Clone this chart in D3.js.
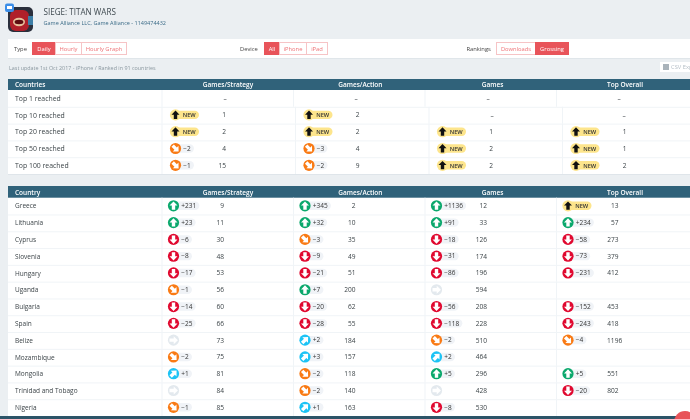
<!DOCTYPE html>
<html><head><meta charset="utf-8">
<script src="https://cdn.jsdelivr.net/npm/d3@7"></script>
<style>html,body{margin:0;padding:0;background:#ebeff2;overflow:hidden}svg{display:block;filter:blur(.3px)}text{font-family:"Open Sans",sans-serif}</style>
</head><body><svg id="c" width="690" height="419"></svg>
<script>
// ---------- data ----------
const columnNames = ["Games/Strategy","Games/Action","Games","Top Overall"];
const milestoneRows = ["Top 1 reached","Top 10 reached","Top 20 reached","Top 50 reached","Top 100 reached"];
const milestoneChange = [
  ["–","NEW","NEW",-2,-1],
  ["–","NEW","NEW",-3,-2],
  ["–","–","NEW","NEW","NEW"],
  ["–","–","NEW","NEW","NEW"]];
const milestoneRank = [
  [null,1,2,4,15],
  [null,2,2,4,9],
  [null,null,1,2,2],
  [null,null,1,1,2]];
const countries = ["Greece","Lithuania","Cyprus","Slovenia","Hungary","Uganda","Bulgaria","Spain","Belize","Mozambique","Mongolia","Trinidad and Tobago","Nigeria"];
const strategyChange = [231,23,-6,-8,-17,-1,-14,-25,0,-2,1,0,-1];
const strategyRank = [9,11,30,48,53,56,60,66,73,75,81,84,85];
const actionChange = [345,32,-3,-9,-21,7,-20,-28,2,3,-2,-2,1];
const actionRank = [2,10,35,49,51,200,62,55,184,157,118,140,163];
const gamesChange = [1136,91,-18,-31,-86,0,-56,-118,-2,2,5,0,-8];
const gamesRank = [12,33,126,174,196,594,208,228,510,464,296,428,530];
const overallChange = ["NEW",234,-58,-73,-231,null,-152,-243,-4,null,5,-20,null];
const overallRank = [13,57,273,379,412,null,453,418,1196,null,551,802,null];
const typeButtons = ["Daily","Hourly","Hourly Graph"];
const deviceButtons = ["All","iPhone","iPad"];
const rankingButtons = ["Downloads","Grossing"];

// ---------- helpers ----------
const HEAD="#30627a", RED="#e8545a", INK="#3c4448", LINE="#f0f4f7";
const svg=d3.select("#c");
const txt=(g,x,y,s,size,fill,anchor,weight)=>g.append("text").attr("x",x).attr("y",y).text(s)
  .attr("font-size",size).attr("fill",fill).attr("text-anchor",anchor||"start").attr("font-weight",weight||400);
const ARROW="M0,-4.4 L4,-0.2 L1.7,-0.2 L1.7,4 L-1.7,4 L-1.7,-0.2 L-4,-0.2 Z";
function style(v){
  if(v==="NEW") return {c:"#fde58c",a:0,f:"#111"};
  if(v===0) return {c:"#e3e9ee",a:90,f:"#fff"};
  if(v>=5) return {c:"#0aa86c",a:0,f:"#fff"};
  if(v>0) return {c:"#1cc3f5",a:45,f:"#fff"};
  if(v>=-4) return {c:"#f97a14",a:135,f:"#fff"};
  return {c:"#e0082f",a:180,f:"#fff"};
}
const label=v=>v==="NEW"?"NEW":v===0?"":(v>0?"+"+v:"−"+Math.abs(v));
function badge(g,x,y,v){
  const s=style(v), t=label(v), isNew=v==="NEW";
  if(t){
    const p=g.append("rect").attr("y",y-4.2).attr("height",8.4).attr("rx",4.2)
      .attr("fill",isNew?"#fde58c":"#f0f3f7");
    const tx=txt(g,x+(isNew?7.2:7.8),y+2.2,t,isNew?5.7:6.5,"#333","start",isNew?600:400);
    const w=tx.node().getComputedTextLength();
    p.attr("x",x).attr("width",w+(isNew?10.5:11)); tx.raise();
  }
  g.append("circle").attr("cx",x).attr("cy",y).attr("r",5.6).attr("fill",s.c);
  g.append("path").attr("d",ARROW).attr("fill",s.f).attr("transform",`translate(${x},${y}) rotate(${s.a})`);
}
function buttons(g,names,edges,active){
  const x=d3.scaleOrdinal().domain(names).range(edges.slice(0,-1));
  const wd=d=>edges[names.indexOf(d)+1]-x(d);
  const sel=g.selectAll("g.b").data(names).join("g");
  sel.append("rect").attr("x",d=>x(d)+.5).attr("y",42.5).attr("width",wd).attr("height",12)
    .attr("fill",d=>d===active?RED:"#fff").attr("stroke",d=>d===active?RED:"#f6c4c6");
  sel.append("text").attr("x",d=>x(d)+wd(d)/2+.5).attr("y",51).attr("text-anchor","middle").attr("font-size",5.8)
    .attr("fill",d=>d===active?"#fff":"#ee7478").text(d=>d);
}
function table(top,bottom,hTop,title,rows,changes,ranks,xScale,off,dashX){
  const g=svg.append("g");
  g.append("rect").attr("x",8).attr("y",hTop).attr("width",690).attr("height",bottom-hTop).attr("fill","#fff");
  g.append("rect").attr("x",8).attr("y",bottom).attr("width",690).attr("height",1).attr("fill","#dfe5ea");
  g.append("rect").attr("x",8).attr("y",hTop).attr("width",690).attr("height",top-hTop).attr("fill",HEAD);
  txt(g,15,top-3,title,6.5,"#fff","start",600);
  const y=d3.scaleBand().domain(rows).range([top,bottom]);
  const hx=d3.scalePoint().domain(columnNames).range(off.head);
  columnNames.forEach(c=>txt(g,hx(c),top-3,c,6.5,"#fff","middle",600));
  rows.forEach((r,i)=>{
    if(i) g.append("rect").attr("x",8).attr("y",y(r)).attr("width",690).attr("height",1).attr("fill",LINE);
    txt(g,15,y(r)+y.bandwidth()/2+2.4,r,off.rowSize,INK);
  });
  columnNames.forEach((c,ci)=>{
    rows.forEach((r,ri)=>{
      const cy=y(r)+y.bandwidth()/2, v=changes[ci][ri], rk=ranks[ci][ri];
      const dash=v==="–", scale=(dash&&ri===0&&off.first)?off.first:xScale;
      g.append("rect").attr("x",scale(c)).attr("y",y(r)).attr("width",1).attr("height",y.bandwidth()).attr("fill",LINE);
      if(dash){ txt(g,dashX[ri===0?0:1][ci],cy+2.3,"–",6.5,INK,"middle"); return; }
      if(v!==null) badge(g,xScale(c)+off.icon,cy-.3,v);
      if(rk!==null){
        const t=txt(g,xScale(c)+off.num,cy+2.2,rk,6.6,INK,"end");
        if(String(rk).length>3) t.attr("text-anchor","start").attr("x",xScale(c)+off.num-11.4);
      }
    });
  });
}

// ---------- page header ----------
const ic=svg.append("g");
ic.append("rect").attr("x",8).attr("y",7).attr("width",25).attr("height",25).attr("rx",5).attr("fill","#2a2f3c");
ic.append("rect").attr("x",10).attr("y",10).attr("width",19).attr("height",21).attr("rx",6).attr("fill","#b0202a");
ic.append("ellipse").attr("cx",19).attr("cy",22).attr("rx",6).attr("ry",4.2).attr("fill","#e6c29c");
ic.append("ellipse").attr("cx",19).attr("cy",22).attr("rx",4.4).attr("ry",2.2).attr("fill","#5c0c10");
ic.append("rect").attr("x",28).attr("y",16).attr("width",5).attr("height",9).attr("fill","#3d7ea6");
ic.append("rect").attr("x",5).attr("y",3.5).attr("width",9).attr("height",8.5).attr("rx",2).attr("fill","#3b8ee8");
ic.append("rect").attr("x",7).attr("y",6).attr("width",5).attr("height",3).attr("fill","#fff");
txt(svg,43.5,15,"SIEGE: TITAN WARS",8.1,"#3f4a50","start",500);
txt(svg,43.5,24.6,"Game Alliance LLC, Game Alliance - 1149474432",5.5,"#3c6c88");

// ---------- filter bar ----------
const bar=svg.append("g");
bar.append("rect").attr("x",8).attr("y",39).attr("width",690).attr("height",19).attr("fill","#fff");
bar.append("rect").attr("x",8).attr("y",58).attr("width",690).attr("height",1).attr("fill","#e0e6ea");
txt(bar,14,51,"Type",5.8,"#444"); txt(bar,240,51,"Device",5.8,"#444"); txt(bar,466.5,51,"Rankings",5.8,"#444");
buttons(bar.append("g"),typeButtons,[32,55,81,126],"Daily");
buttons(bar.append("g"),deviceButtons,[264,279,306,327],"All");
buttons(bar.append("g"),rankingButtons,[496,535,568],"Grossing");
txt(svg,9,69.5,"Last update 1st Oct 2017 - iPhone / Ranked in 91 countries",5.4,"#8a979f");
svg.append("rect").attr("x",660).attr("y",62).attr("width",32).attr("height",10).attr("fill","#fff");
svg.append("rect").attr("x",663).attr("y",64).attr("width",6).attr("height",6).attr("fill","#a9b3ba");
txt(svg,671,69.4,"CSV Export",5.8,"#b4bec6");

// ---------- tables ----------
const xEven=d3.scaleBand().domain(columnNames).range([161.5,687.5]);
const xWide=d3.scaleBand().domain(columnNames).range([161.5,695.5]);
table(90,174,79,"Countries",milestoneRows,milestoneChange,milestoneRank,xWide,
  {head:[228,625],icon:14,num:64.5,first:xEven,rowSize:6.9},[[225,356,488,619],[225,356,492,624]]);
table(197.7,416,186,"Country",countries,
  [strategyChange,actionChange,gamesChange,overallChange],
  [strategyRank,actionRank,gamesRank,overallRank],xEven,{head:[228,625],icon:12,num:62.5,rowSize:6.5},[[],[]]);

// ---------- bottom strip ----------
svg.append("rect").attr("x",0).attr("y",416).attr("width",690).attr("height",3).attr("fill","#2c5468");
svg.append("circle").attr("cx",685).attr("cy",422).attr("r",11).attr("fill","#e8545a");
</script></body></html>
